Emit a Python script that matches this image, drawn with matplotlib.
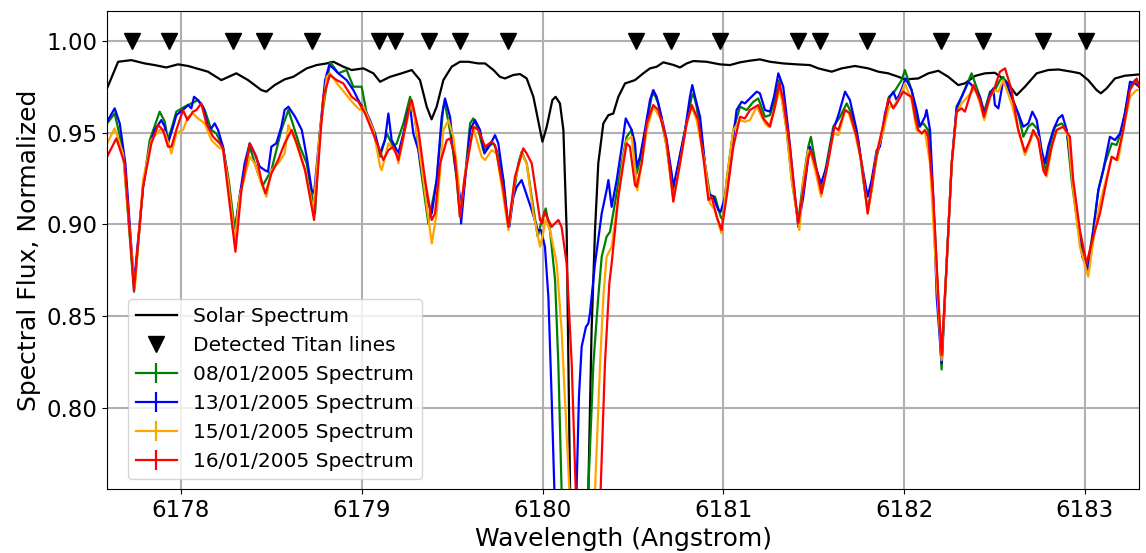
import matplotlib
matplotlib.use('Agg')
import matplotlib.pyplot as plt

# solar reference spectrum (black)
solar_wl = [6177.591, 6177.652, 6177.725, 6177.799, 6177.854, 6177.919, 6177.983, 6178.039, 6178.149,
            6178.223, 6178.306, 6178.371, 6178.444, 6178.472, 6178.518, 6178.573, 6178.621, 6178.695,
            6178.750, 6178.806, 6178.843, 6178.898, 6178.944, 6179.009, 6179.064, 6179.101, 6179.156,
            6179.220, 6179.276, 6179.322, 6179.359, 6179.386, 6179.414, 6179.451, 6179.497, 6179.543,
            6179.589, 6179.645, 6179.682, 6179.728, 6179.764, 6179.792, 6179.838, 6179.875, 6179.912,
            6179.949, 6179.986, 6179.999, 6180.023, 6180.054, 6180.072, 6180.096, 6180.115, 6180.133,
            6180.152, 6180.200, 6180.253, 6180.271, 6180.290, 6180.308, 6180.336, 6180.364, 6180.391,
            6180.419, 6180.456, 6180.511, 6180.557, 6180.594, 6180.631, 6180.668, 6180.723, 6180.760,
            6180.797, 6180.834, 6180.907, 6180.981, 6181.036, 6181.092, 6181.147, 6181.202, 6181.258,
            6181.331, 6181.405, 6181.479, 6181.525, 6181.599, 6181.654, 6181.728, 6181.802, 6181.857,
            6181.912, 6181.968, 6182.004, 6182.078, 6182.134, 6182.189, 6182.244, 6182.299, 6182.336,
            6182.392, 6182.447, 6182.502, 6182.558, 6182.594, 6182.622, 6182.668, 6182.733, 6182.797,
            6182.853, 6182.926, 6182.972, 6183.018, 6183.064, 6183.088, 6183.120, 6183.166, 6183.221,
            6183.300]
solar_flux = [0.9742, 0.9887, 0.9896, 0.9878, 0.9869, 0.9856, 0.9873, 0.9864, 0.9833,
              0.9787, 0.9824, 0.9787, 0.9733, 0.9724, 0.9760, 0.9791, 0.9805, 0.9851,
              0.9869, 0.9878, 0.9887, 0.9860, 0.9842, 0.9851, 0.9824, 0.9778, 0.9805,
              0.9824, 0.9842, 0.9787, 0.9642, 0.9573, 0.9642, 0.9787, 0.9860, 0.9887,
              0.9887, 0.9878, 0.9878, 0.9842, 0.9805, 0.9796, 0.9815, 0.9820, 0.9796,
              0.9696, 0.9515, 0.9451, 0.9533, 0.9678, 0.9696, 0.9660, 0.9515, 0.8969,
              0.7550, 0.4000, 0.7550, 0.8424, 0.8969, 0.9333, 0.9551, 0.9596, 0.9605,
              0.9696, 0.9769, 0.9787, 0.9824, 0.9851, 0.9860, 0.9884, 0.9870, 0.9856,
              0.9878, 0.9891, 0.9887, 0.9873, 0.9869, 0.9884, 0.9893, 0.9900, 0.9887,
              0.9878, 0.9873, 0.9869, 0.9851, 0.9833, 0.9851, 0.9864, 0.9851, 0.9833,
              0.9824, 0.9805, 0.9791, 0.9796, 0.9824, 0.9838, 0.9805, 0.9760, 0.9769,
              0.9810, 0.9824, 0.9827, 0.9787, 0.9742, 0.9705, 0.9751, 0.9824, 0.9842,
              0.9845, 0.9833, 0.9824, 0.9787, 0.9733, 0.9715, 0.9742, 0.9796, 0.9811,
              0.9818]

# detected Titan lines
titan_lines = [6177.731, 6177.932, 6178.286, 6178.457, 6178.726, 6179.097, 6179.182, 6179.373,
               6179.545, 6179.809, 6180.518, 6180.712, 6180.983, 6181.411, 6181.536, 6181.793,
               6182.206, 6182.436, 6182.769, 6183.007]

# 08/01/2005
wl_0801 = [6177.591, 6177.633, 6177.679, 6177.740, 6177.790, 6177.827, 6177.882, 6177.910, 6177.928,
           6177.956, 6177.974, 6178.020, 6178.076, 6178.094, 6178.131, 6178.168, 6178.195, 6178.232,
           6178.264, 6178.297, 6178.324, 6178.380, 6178.426, 6178.454, 6178.500, 6178.555, 6178.594,
           6178.658, 6178.695, 6178.741, 6178.769, 6178.824, 6178.870, 6178.916, 6178.953, 6178.999,
           6179.027, 6179.064, 6179.101, 6179.138, 6179.174, 6179.193, 6179.230, 6179.267, 6179.294,
           6179.322, 6179.368, 6179.414, 6179.451, 6179.460, 6179.497, 6179.525, 6179.543, 6179.571,
           6179.599, 6179.617, 6179.645, 6179.672, 6179.709, 6179.728, 6179.746, 6179.783, 6179.811,
           6179.838, 6179.866, 6179.884, 6179.912, 6179.940, 6179.973, 6179.991, 6180.017, 6180.041,
           6180.069, 6180.087, 6180.105, 6180.180, 6180.253, 6180.281, 6180.308, 6180.327, 6180.354,
           6180.373, 6180.400, 6180.437, 6180.465, 6180.493, 6180.520, 6180.539, 6180.603, 6180.616,
           6180.640, 6180.686, 6180.723, 6180.751, 6180.788, 6180.825, 6180.834, 6180.852, 6180.898,
           6180.926, 6180.954, 6180.985, 6180.996, 6181.018, 6181.055, 6181.092, 6181.129, 6181.166,
           6181.193, 6181.230, 6181.258, 6181.285, 6181.309, 6181.350, 6181.378, 6181.414, 6181.442,
           6181.470, 6181.484, 6181.516, 6181.543, 6181.571, 6181.608, 6181.645, 6181.682, 6181.709,
           6181.746, 6181.774, 6181.798, 6181.820, 6181.848, 6181.885, 6181.916, 6181.940, 6181.986,
           6182.004, 6182.041, 6182.078, 6182.106, 6182.133, 6182.170, 6182.207, 6182.235, 6182.263,
           6182.290, 6182.318, 6182.373, 6182.419, 6182.443, 6182.475, 6182.502, 6182.530, 6182.548,
           6182.594, 6182.631, 6182.659, 6182.687, 6182.709, 6182.742, 6182.770, 6182.783, 6182.806,
           6182.834, 6182.871, 6182.899, 6182.926, 6182.963, 6183.009, 6183.046, 6183.074, 6183.111,
           6183.148, 6183.175, 6183.203, 6183.249, 6183.277, 6183.299]
flux_0801 = [0.9551, 0.9605, 0.9405, 0.8633, 0.9205, 0.9460, 0.9615, 0.9560, 0.9460,
             0.9551, 0.9615, 0.9642, 0.9669, 0.9678, 0.9624, 0.9515, 0.9496, 0.9424,
             0.9242, 0.8969, 0.9151, 0.9424, 0.9278, 0.9215, 0.9296, 0.9515, 0.9624,
             0.9424, 0.9333, 0.9060, 0.9515, 0.9887, 0.9824, 0.9842, 0.9751, 0.9751,
             0.9605, 0.9515, 0.9369, 0.9496, 0.9424, 0.9442, 0.9551, 0.9696, 0.9587,
             0.9333, 0.9005, 0.9242, 0.9642, 0.9660, 0.9460, 0.9242, 0.9042, 0.9260,
             0.9551, 0.9578, 0.9515, 0.9405, 0.9433, 0.9442, 0.9405, 0.9242, 0.8987,
             0.9151, 0.9333, 0.9396, 0.9333, 0.9151, 0.8933, 0.9005, 0.9087, 0.8969,
             0.8696, 0.8242, 0.7555, 0.5200, 0.7555, 0.8242, 0.8605, 0.8824, 0.8933,
             0.8960, 0.9115, 0.9333, 0.9478, 0.9515, 0.9278, 0.9351, 0.9696, 0.9715,
             0.9660, 0.9424, 0.9151, 0.9333, 0.9515, 0.9696, 0.9715, 0.9642, 0.9333,
             0.9160, 0.9151, 0.9042, 0.9024, 0.9242, 0.9515, 0.9642, 0.9624, 0.9669,
             0.9687, 0.9587, 0.9596, 0.9678, 0.9787, 0.9515, 0.9242, 0.9015, 0.9242,
             0.9424, 0.9478, 0.9296, 0.9187, 0.9333, 0.9533, 0.9587, 0.9660, 0.9605,
             0.9460, 0.9242, 0.9078, 0.9187, 0.9369, 0.9515, 0.9696, 0.9715, 0.9787,
             0.9842, 0.9733, 0.9533, 0.9551, 0.9515, 0.8969, 0.8209, 0.8787, 0.9333,
             0.9624, 0.9696, 0.9824, 0.9696, 0.9615, 0.9724, 0.9733, 0.9787, 0.9805,
             0.9696, 0.9605, 0.9478, 0.9533, 0.9551, 0.9515, 0.9333, 0.9296, 0.9424,
             0.9533, 0.9551, 0.9515, 0.9242, 0.8969, 0.8751, 0.8969, 0.9187, 0.9333,
             0.9442, 0.9433, 0.9515, 0.9751, 0.9787, 0.9769]

# 13/01/2005
wl_1301 = [6177.591, 6177.633, 6177.661, 6177.679, 6177.692, 6177.740, 6177.790, 6177.827, 6177.854,
           6177.891, 6177.910, 6177.928, 6177.956, 6177.974, 6178.020, 6178.039, 6178.057, 6178.072,
           6178.094, 6178.122, 6178.149, 6178.168, 6178.186, 6178.205, 6178.232, 6178.260, 6178.288,
           6178.297, 6178.324, 6178.352, 6178.380, 6178.407, 6178.435, 6178.463, 6178.481, 6178.500,
           6178.527, 6178.555, 6178.573, 6178.594, 6178.631, 6178.668, 6178.695, 6178.723, 6178.736,
           6178.769, 6178.797, 6178.820, 6178.843, 6178.870, 6178.916, 6178.953, 6178.990, 6179.018,
           6179.045, 6179.073, 6179.101, 6179.128, 6179.147, 6179.165, 6179.184, 6179.202, 6179.230,
           6179.257, 6179.267, 6179.285, 6179.313, 6179.340, 6179.368, 6179.387, 6179.414, 6179.442,
           6179.460, 6179.488, 6179.515, 6179.543, 6179.549, 6179.571, 6179.599, 6179.626, 6179.654,
           6179.678, 6179.709, 6179.737, 6179.755, 6179.783, 6179.807, 6179.816, 6179.838, 6179.857,
           6179.884, 6179.903, 6179.940, 6179.973, 6179.991, 6180.013, 6180.032, 6180.050, 6180.065,
           6180.126, 6180.188, 6180.201, 6180.216, 6180.240, 6180.253, 6180.262, 6180.290, 6180.327,
           6180.354, 6180.364, 6180.382, 6180.410, 6180.438, 6180.460, 6180.493, 6180.511, 6180.520,
           6180.539, 6180.566, 6180.594, 6180.612, 6180.631, 6180.658, 6180.686, 6180.714, 6180.723,
           6180.751, 6180.788, 6180.815, 6180.828, 6180.843, 6180.871, 6180.898, 6180.917, 6180.944,
           6180.972, 6180.985, 6181.009, 6181.037, 6181.073, 6181.101, 6181.119, 6181.156, 6181.184,
           6181.202, 6181.230, 6181.258, 6181.280, 6181.304, 6181.331, 6181.359, 6181.387, 6181.414,
           6181.442, 6181.470, 6181.479, 6181.516, 6181.540, 6181.571, 6181.608, 6181.636, 6181.673,
           6181.700, 6181.737, 6181.765, 6181.798, 6181.820, 6181.848, 6181.866, 6181.894, 6181.921,
           6181.940, 6181.958, 6181.977, 6182.008, 6182.041, 6182.069, 6182.087, 6182.115, 6182.124,
           6182.143, 6182.161, 6182.180, 6182.207, 6182.235, 6182.263, 6182.290, 6182.318, 6182.355,
           6182.392, 6182.419, 6182.443, 6182.475, 6182.493, 6182.502, 6182.521, 6182.548, 6182.567,
           6182.594, 6182.631, 6182.659, 6182.687, 6182.709, 6182.733, 6182.760, 6182.779, 6182.797,
           6182.825, 6182.853, 6182.875, 6182.899, 6182.926, 6182.954, 6182.985, 6183.018, 6183.046,
           6183.074, 6183.101, 6183.138, 6183.166, 6183.194, 6183.221, 6183.249, 6183.277, 6183.299]
flux_1301 = [0.9560, 0.9633, 0.9551, 0.9424, 0.9333, 0.8678, 0.9205, 0.9424, 0.9515,
             0.9569, 0.9533, 0.9442, 0.9533, 0.9596, 0.9633, 0.9651, 0.9633, 0.9696,
             0.9678, 0.9642, 0.9533, 0.9524, 0.9551, 0.9515, 0.9424, 0.9242, 0.8969,
             0.8951, 0.9151, 0.9333, 0.9442, 0.9387, 0.9315, 0.9296, 0.9287, 0.9424,
             0.9442, 0.9533, 0.9624, 0.9642, 0.9587, 0.9515, 0.9369, 0.9187, 0.9169,
             0.9515, 0.9787, 0.9869, 0.9851, 0.9824, 0.9787, 0.9733, 0.9660, 0.9624,
             0.9569, 0.9496, 0.9387, 0.9460, 0.9605, 0.9460, 0.9424, 0.9387, 0.9496,
             0.9624, 0.9642, 0.9496, 0.9405, 0.9242, 0.9115, 0.9060, 0.9242, 0.9587,
             0.9687, 0.9587, 0.9333, 0.9151, 0.9005, 0.9242, 0.9515, 0.9569, 0.9515,
             0.9387, 0.9433, 0.9487, 0.9442, 0.9242, 0.9005, 0.8987, 0.9151, 0.9205,
             0.9242, 0.9187, 0.9078, 0.8969, 0.8969, 0.8878, 0.8605, 0.8060, 0.7555,
             0.5500, 0.7555, 0.8060, 0.8333, 0.8442, 0.8460, 0.8515, 0.8787, 0.9060,
             0.9187, 0.9242, 0.9096, 0.9242, 0.9424, 0.9578, 0.9515, 0.9442, 0.9315,
             0.9369, 0.9515, 0.9678, 0.9733, 0.9696, 0.9587, 0.9460, 0.9278, 0.9205,
             0.9333, 0.9515, 0.9696, 0.9760, 0.9696, 0.9587, 0.9333, 0.9169, 0.9151,
             0.9078, 0.9069, 0.9151, 0.9333, 0.9624, 0.9669, 0.9660, 0.9696, 0.9724,
             0.9715, 0.9624, 0.9615, 0.9696, 0.9824, 0.9751, 0.9515, 0.9242, 0.8987,
             0.9151, 0.9369, 0.9424, 0.9296, 0.9224, 0.9315, 0.9515, 0.9596, 0.9724,
             0.9678, 0.9515, 0.9333, 0.9151, 0.9242, 0.9405, 0.9424, 0.9605, 0.9696,
             0.9724, 0.9678, 0.9715, 0.9796, 0.9733, 0.9624, 0.9533, 0.9587, 0.9624,
             0.9515, 0.9151, 0.8605, 0.8242, 0.8787, 0.9333, 0.9642, 0.9696, 0.9778,
             0.9742, 0.9696, 0.9596, 0.9715, 0.9742, 0.9651, 0.9633, 0.9787, 0.9769,
             0.9696, 0.9605, 0.9533, 0.9551, 0.9615, 0.9569, 0.9405, 0.9333, 0.9424,
             0.9515, 0.9578, 0.9596, 0.9515, 0.9296, 0.9060, 0.8824, 0.8751, 0.8969,
             0.9187, 0.9296, 0.9478, 0.9460, 0.9496, 0.9605, 0.9778, 0.9769, 0.9751]

# 15/01/2005
wl_1501 = [6177.591, 6177.633, 6177.679, 6177.744, 6177.790, 6177.836, 6177.882, 6177.910, 6177.947,
           6177.974, 6178.011, 6178.039, 6178.066, 6178.094, 6178.131, 6178.168, 6178.205, 6178.232,
           6178.260, 6178.297, 6178.324, 6178.380, 6178.407, 6178.444, 6178.472, 6178.500, 6178.537,
           6178.573, 6178.594, 6178.631, 6178.686, 6178.732, 6178.769, 6178.806, 6178.824, 6178.870,
           6178.907, 6178.953, 6178.990, 6179.009, 6179.064, 6179.101, 6179.110, 6179.147, 6179.193,
           6179.202, 6179.239, 6179.276, 6179.303, 6179.340, 6179.387, 6179.414, 6179.451, 6179.479,
           6179.506, 6179.534, 6179.543, 6179.571, 6179.617, 6179.663, 6179.682, 6179.718, 6179.746,
           6179.783, 6179.811, 6179.847, 6179.884, 6179.912, 6179.949, 6179.986, 6179.999, 6180.017,
           6180.041, 6180.078, 6180.105, 6180.148, 6180.220, 6180.290, 6180.318, 6180.336, 6180.354,
           6180.382, 6180.419, 6180.447, 6180.465, 6180.493, 6180.524, 6180.548, 6180.576, 6180.612,
           6180.659, 6180.686, 6180.723, 6180.760, 6180.797, 6180.825, 6180.852, 6180.898, 6180.926,
           6180.954, 6180.978, 6180.990, 6181.018, 6181.055, 6181.092, 6181.119, 6181.147, 6181.184,
           6181.230, 6181.249, 6181.276, 6181.313, 6181.350, 6181.378, 6181.420, 6181.442, 6181.470,
           6181.484, 6181.516, 6181.540, 6181.571, 6181.608, 6181.636, 6181.673, 6181.691, 6181.728,
           6181.765, 6181.798, 6181.820, 6181.848, 6181.885, 6181.916, 6181.940, 6181.977, 6182.004,
           6182.041, 6182.069, 6182.097, 6182.115, 6182.143, 6182.174, 6182.207, 6182.235, 6182.263,
           6182.290, 6182.318, 6182.392, 6182.419, 6182.443, 6182.475, 6182.502, 6182.521, 6182.548,
           6182.594, 6182.631, 6182.668, 6182.687, 6182.714, 6182.742, 6182.770, 6182.788, 6182.816,
           6182.843, 6182.880, 6182.908, 6182.935, 6182.972, 6183.018, 6183.055, 6183.083, 6183.120,
           6183.148, 6183.184, 6183.212, 6183.249, 6183.286, 6183.299]
flux_1501 = [0.9442, 0.9524, 0.9387, 0.8651, 0.9242, 0.9460, 0.9515, 0.9505, 0.9387,
             0.9496, 0.9515, 0.9587, 0.9605, 0.9578, 0.9551, 0.9460, 0.9424, 0.9405,
             0.9242, 0.8915, 0.9151, 0.9369, 0.9333, 0.9224, 0.9151, 0.9296, 0.9333,
             0.9387, 0.9542, 0.9460, 0.9296, 0.9078, 0.9515, 0.9805, 0.9824, 0.9760,
             0.9715, 0.9660, 0.9624, 0.9642, 0.9515, 0.9315, 0.9296, 0.9442, 0.9387,
             0.9333, 0.9515, 0.9678, 0.9515, 0.9242, 0.8896, 0.9060, 0.9515, 0.9569,
             0.9478, 0.9242, 0.9042, 0.9278, 0.9524, 0.9369, 0.9351, 0.9405, 0.9387,
             0.9151, 0.8969, 0.9242, 0.9387, 0.9333, 0.9060, 0.8878, 0.8933, 0.9024,
             0.8969, 0.8787, 0.8424, 0.7555, 0.6000, 0.7555, 0.8242, 0.8605, 0.8824,
             0.8878, 0.9151, 0.9369, 0.9460, 0.9478, 0.9187, 0.9333, 0.9515, 0.9642,
             0.9569, 0.9424, 0.9133, 0.9333, 0.9551, 0.9642, 0.9569, 0.9333, 0.9115,
             0.9078, 0.8987, 0.8951, 0.9242, 0.9515, 0.9569, 0.9560, 0.9569, 0.9642,
             0.9551, 0.9533, 0.9605, 0.9742, 0.9515, 0.9242, 0.8969, 0.9242, 0.9405,
             0.9387, 0.9260, 0.9151, 0.9296, 0.9496, 0.9487, 0.9624, 0.9615, 0.9496,
             0.9333, 0.9060, 0.9187, 0.9387, 0.9515, 0.9642, 0.9642, 0.9696, 0.9769,
             0.9678, 0.9515, 0.9496, 0.9505, 0.9333, 0.8787, 0.8260, 0.8787, 0.9333,
             0.9605, 0.9660, 0.9742, 0.9660, 0.9569, 0.9696, 0.9733, 0.9724, 0.9787,
             0.9660, 0.9515, 0.9378, 0.9424, 0.9496, 0.9478, 0.9296, 0.9260, 0.9424,
             0.9515, 0.9533, 0.9478, 0.9187, 0.8878, 0.8715, 0.8969, 0.9115, 0.9260,
             0.9369, 0.9351, 0.9515, 0.9696, 0.9733, 0.9733]

# 16/01/2005
wl_1601 = [6177.591, 6177.642, 6177.688, 6177.740, 6177.790, 6177.836, 6177.873, 6177.900, 6177.928,
           6177.947, 6177.974, 6178.011, 6178.035, 6178.066, 6178.085, 6178.112, 6178.140, 6178.177,
           6178.214, 6178.232, 6178.264, 6178.301, 6178.334, 6178.380, 6178.417, 6178.448, 6178.468,
           6178.500, 6178.537, 6178.573, 6178.612, 6178.640, 6178.686, 6178.736, 6178.760, 6178.787,
           6178.824, 6178.861, 6178.898, 6178.944, 6178.981, 6179.018, 6179.055, 6179.091, 6179.119,
           6179.147, 6179.174, 6179.202, 6179.230, 6179.267, 6179.276, 6179.313, 6179.350, 6179.387,
           6179.405, 6179.433, 6179.470, 6179.488, 6179.515, 6179.543, 6179.567, 6179.617, 6179.645,
           6179.682, 6179.718, 6179.737, 6179.783, 6179.811, 6179.847, 6179.893, 6179.912, 6179.940,
           6179.986, 6179.999, 6180.010, 6180.050, 6180.087, 6180.105, 6180.133, 6180.161, 6180.183,
           6180.250, 6180.321, 6180.345, 6180.369, 6180.382, 6180.419, 6180.447, 6180.465, 6180.483,
           6180.511, 6180.520, 6180.548, 6180.576, 6180.612, 6180.640, 6180.686, 6180.723, 6180.760,
           6180.797, 6180.825, 6180.861, 6180.893, 6180.917, 6180.935, 6180.963, 6180.990, 6181.018,
           6181.055, 6181.092, 6181.119, 6181.147, 6181.193, 6181.221, 6181.258, 6181.285, 6181.309,
           6181.331, 6181.368, 6181.396, 6181.414, 6181.442, 6181.470, 6181.484, 6181.516, 6181.543,
           6181.571, 6181.614, 6181.636, 6181.673, 6181.700, 6181.737, 6181.765, 6181.798, 6181.820,
           6181.848, 6181.894, 6181.912, 6181.940, 6181.958, 6181.995, 6182.023, 6182.041, 6182.060,
           6182.078, 6182.097, 6182.115, 6182.133, 6182.161, 6182.189, 6182.207, 6182.235, 6182.263,
           6182.290, 6182.318, 6182.336, 6182.382, 6182.419, 6182.441, 6182.475, 6182.502, 6182.530,
           6182.558, 6182.594, 6182.631, 6182.668, 6182.696, 6182.714, 6182.742, 6182.770, 6182.783,
           6182.816, 6182.843, 6182.880, 6182.917, 6182.935, 6182.972, 6183.009, 6183.046, 6183.083,
           6183.120, 6183.148, 6183.175, 6183.212, 6183.249, 6183.286, 6183.299]
flux_1601 = [0.9369, 0.9469, 0.9333, 0.8642, 0.9205, 0.9442, 0.9542, 0.9515, 0.9424,
             0.9424, 0.9515, 0.9624, 0.9569, 0.9615, 0.9624, 0.9660, 0.9551, 0.9478,
             0.9442, 0.9415, 0.9151, 0.8851, 0.9187, 0.9442, 0.9369, 0.9224, 0.9169,
             0.9278, 0.9351, 0.9442, 0.9515, 0.9442, 0.9296, 0.9024, 0.9333, 0.9696,
             0.9815, 0.9787, 0.9769, 0.9696, 0.9669, 0.9605, 0.9515, 0.9424, 0.9351,
             0.9405, 0.9424, 0.9351, 0.9478, 0.9660, 0.9678, 0.9515, 0.9242, 0.9024,
             0.9060, 0.9333, 0.9460, 0.9469, 0.9369, 0.9042, 0.9242, 0.9533, 0.9515,
             0.9424, 0.9451, 0.9433, 0.9187, 0.8987, 0.9260, 0.9415, 0.9387, 0.9333,
             0.9024, 0.9005, 0.9069, 0.8987, 0.9024, 0.8987, 0.8787, 0.8242, 0.7555,
             0.5500, 0.7555, 0.8242, 0.8678, 0.8787, 0.9151, 0.9333, 0.9442, 0.9424,
             0.9215, 0.9205, 0.9333, 0.9551, 0.9651, 0.9624, 0.9460, 0.9124, 0.9333,
             0.9551, 0.9651, 0.9569, 0.9333, 0.9133, 0.9151, 0.9042, 0.8969, 0.9151,
             0.9424, 0.9587, 0.9578, 0.9624, 0.9651, 0.9578, 0.9533, 0.9642, 0.9769,
             0.9678, 0.9424, 0.9151, 0.9005, 0.9187, 0.9369, 0.9405, 0.9296, 0.9169,
             0.9296, 0.9533, 0.9515, 0.9624, 0.9605, 0.9478, 0.9333, 0.9060, 0.9205,
             0.9387, 0.9587, 0.9687, 0.9633, 0.9660, 0.9724, 0.9705, 0.9696, 0.9587,
             0.9515, 0.9496, 0.9515, 0.9478, 0.9151, 0.8605, 0.8287, 0.8787, 0.9333,
             0.9615, 0.9633, 0.9615, 0.9760, 0.9678, 0.9587, 0.9696, 0.9751, 0.9833,
             0.9851, 0.9733, 0.9515, 0.9396, 0.9460, 0.9515, 0.9460, 0.9296, 0.9269,
             0.9424, 0.9515, 0.9533, 0.9478, 0.9242, 0.8969, 0.8787, 0.8933, 0.9060,
             0.9242, 0.9369, 0.9351, 0.9515, 0.9733, 0.9796, 0.9751]

fig = plt.figure(figsize=(11.46, 5.53), dpi=100)
ax = fig.add_axes([0.0936, 0.1157, 0.9003, 0.8651])

ax.plot(solar_wl, solar_flux, color='black', lw=1.6, label='Solar Spectrum')
ax.plot(titan_lines, [1.0] * len(titan_lines), 'v', color='black', ms=12,
        linestyle='none', label='Detected Titan lines')
ax.errorbar(wl_0801, flux_0801, yerr=0.0, color='green', lw=1.6, label='08/01/2005 Spectrum')
ax.errorbar(wl_1301, flux_1301, yerr=0.0, color='blue', lw=1.6, label='13/01/2005 Spectrum')
ax.errorbar(wl_1501, flux_1501, yerr=0.0, color='orange', lw=1.6, label='15/01/2005 Spectrum')
ax.errorbar(wl_1601, flux_1601, yerr=0.0, color='red', lw=1.6, label='16/01/2005 Spectrum')

ax.set_xlim(6177.592, 6183.299)
ax.set_ylim(0.7557, 1.0166)
ax.set_xticks([6178, 6179, 6180, 6181, 6182, 6183])
ax.set_yticks([0.80, 0.85, 0.90, 0.95, 1.00])
ax.grid(True, color='#b0b0b0', lw=1.5)
ax.set_axisbelow(True)
ax.tick_params(labelsize=16.5)
ax.set_xlabel('Wavelength (Angstrom)', fontsize=18)
ax.set_ylabel('Spectral Flux, Normalized', fontsize=18)

ax.legend(loc='lower left', bbox_to_anchor=(0.0203, 0.02), borderaxespad=0,
          fontsize=14.5, labelspacing=0.5)

fig.savefig('out.png', dpi=100)
